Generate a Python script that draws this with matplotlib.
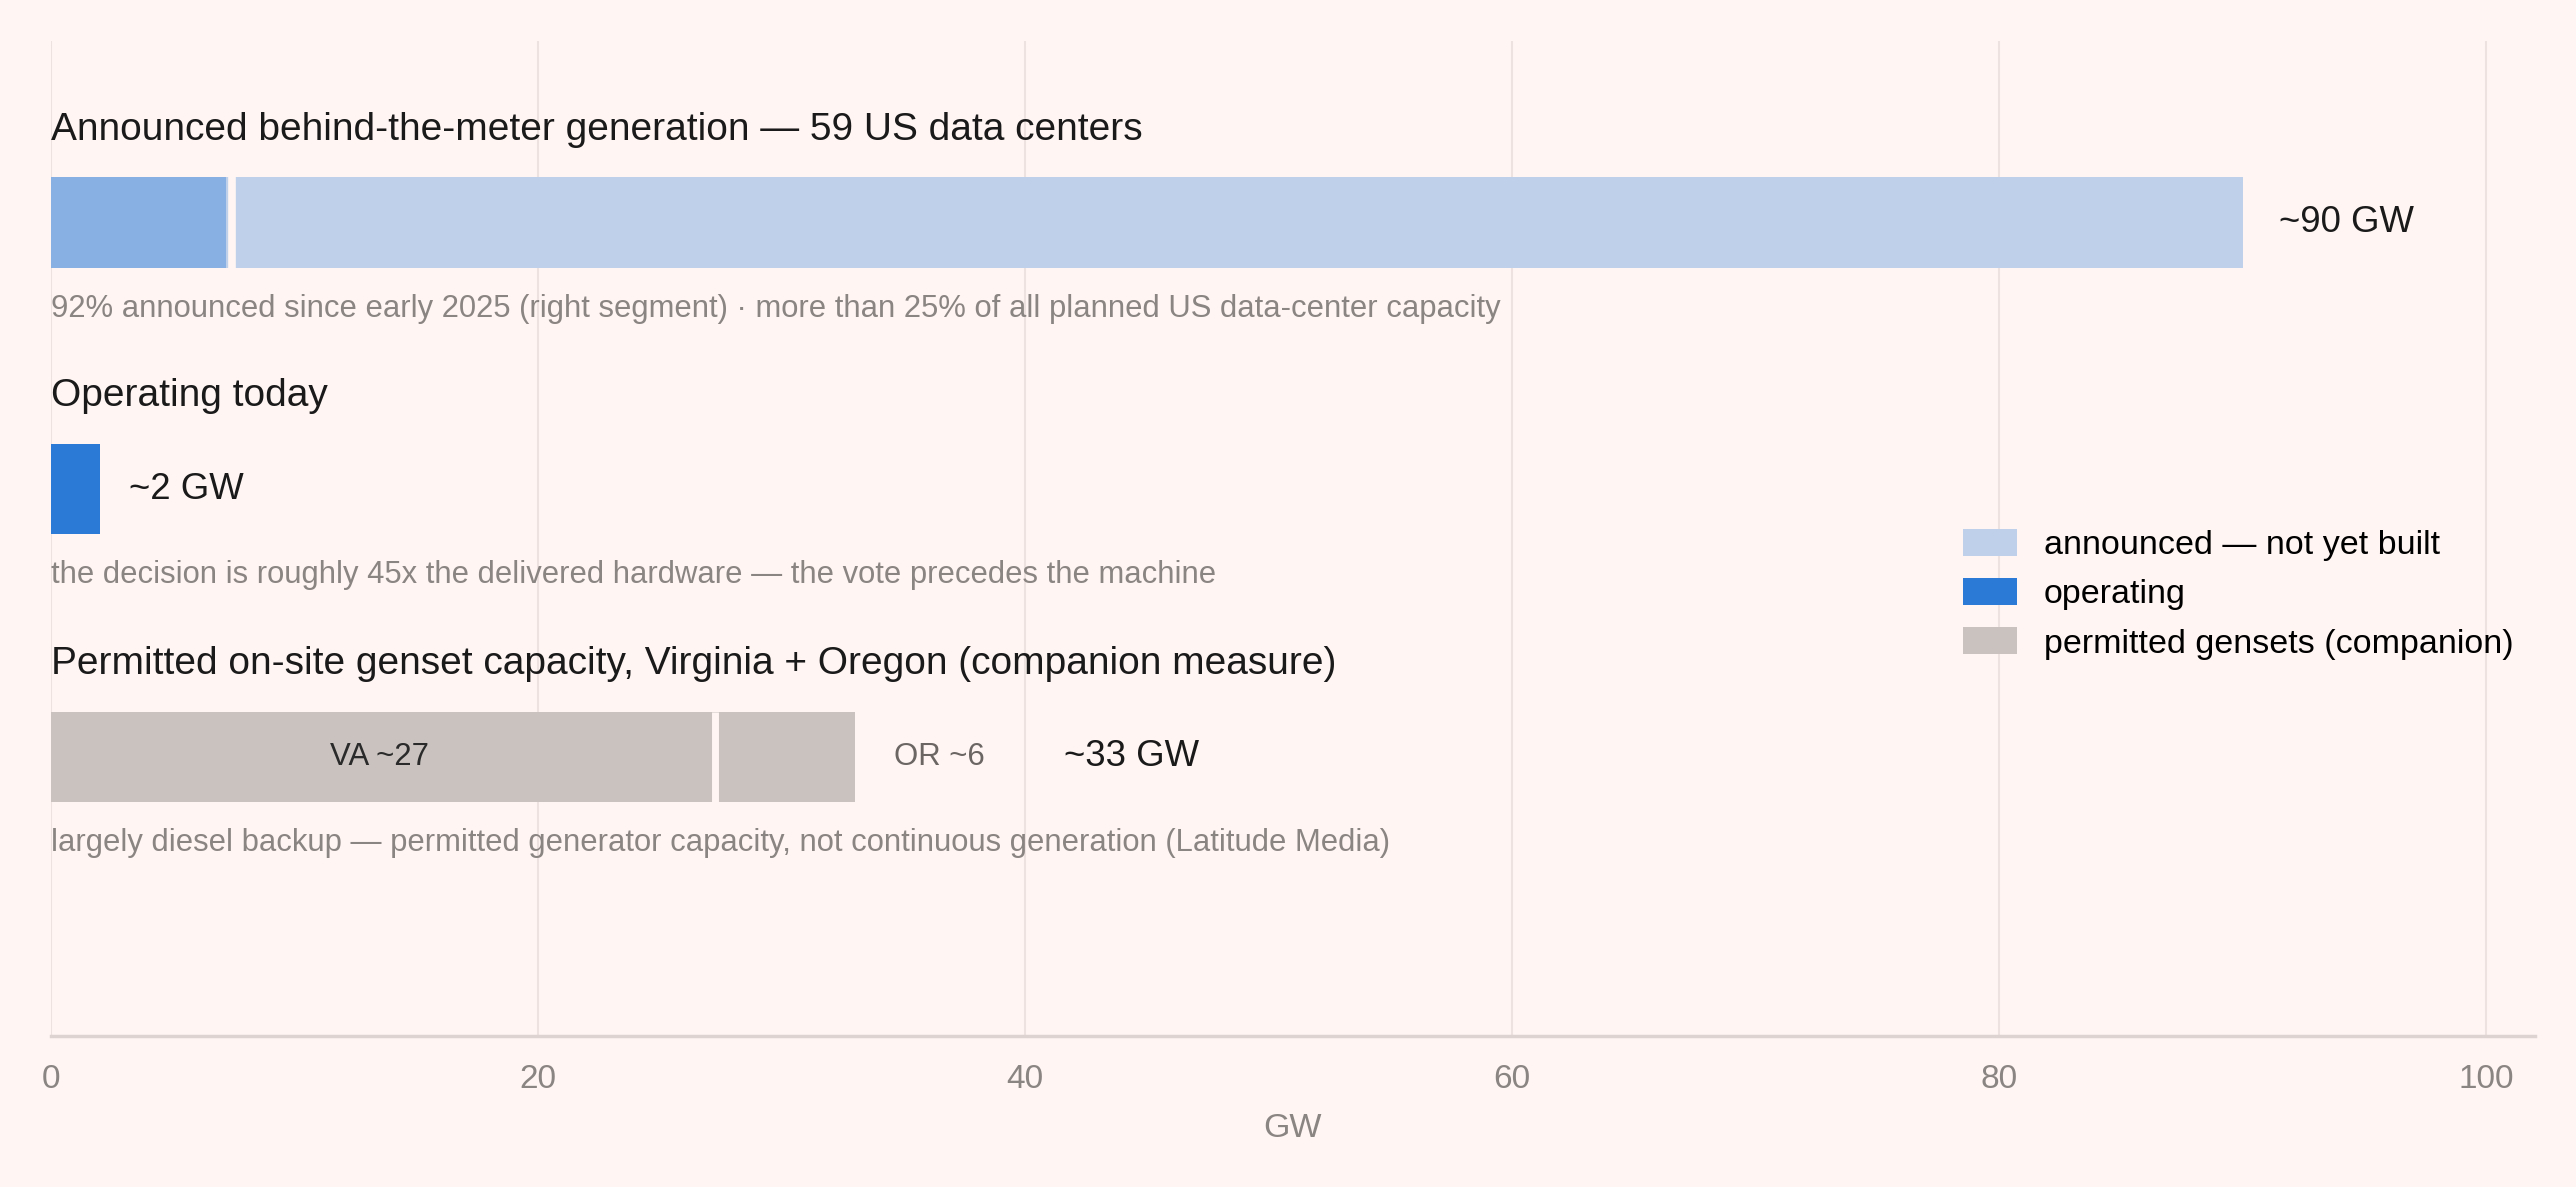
import matplotlib
matplotlib.use('Agg')
import matplotlib.pyplot as plt
from matplotlib.patches import Patch

plt.rcParams['font.family'] = ['Liberation Sans', 'DejaVu Sans']

# data (GW)
announced_total = 90
announced_pre2025 = 7.2      # ~8% announced before 2025
announced_2025 = 82.8        # 92% announced since early 2025
operating = 2
genset_states = ['VA', 'OR']
genset_gw = [27, 6]

section_titles = ['Announced behind-the-meter generation \u2014 59 US data centers',
                  'Operating today',
                  'Permitted on-site genset capacity, Virginia + Oregon (companion measure)']
section_notes = ['92% announced since early 2025 (right segment) \u00b7 more than 25% of all planned US data-center capacity',
                 'the decision is roughly 45x the delivered hardware \u2014 the vote precedes the machine',
                 'largely diesel backup \u2014 permitted generator capacity, not continuous generation (Latitude Media)']
total_labels = ['~90 GW', '~2 GW', '~33 GW']
legend_labels = ['announced \u2014 not yet built', 'operating', 'permitted gensets (companion)']

bg = '#fff6f3'
c_pre = '#89b0e3'
c_ann = '#bfd0ea'
c_op = '#2b7ad6'
c_gen = '#c9c2bf'
dark = '#1a1a1a'
gray = '#8a8482'

fig = plt.figure(figsize=(25.76, 11.87), dpi=100, facecolor=bg)
ax = fig.add_axes([31 / 1568, 1 - 631 / 723, 1512 / 1568, 606 / 723])
ax.set_facecolor(bg)

# rows laid out in display-like units, top to bottom
rows = [135.5, 298.0, 461.0]
bh = 55
sep_off = 0.25   # small gap after each segment boundary

# row 1: announced
ax.barh(rows[0], announced_pre2025, left=0, height=bh, color=c_pre, zorder=2)
ax.barh(rows[0], announced_2025, left=announced_pre2025, height=bh, color=c_ann, zorder=2)
ax.vlines(announced_pre2025 + sep_off, rows[0] - bh / 2, rows[0] + bh / 2,
          color=bg, linewidth=5.5, zorder=3)
ax.text(announced_total + 1.5, rows[0], total_labels[0], fontsize=26.3, color=dark,
        va='center', ha='left')

# row 2: operating
ax.barh(rows[1], operating, left=0, height=bh, color=c_op, zorder=2)
ax.text(operating + 1.2, rows[1], total_labels[1], fontsize=26.3, color=dark,
        va='center', ha='left')

# row 3: gensets
left = 0
for st, v in zip(genset_states, genset_gw):
    ax.barh(rows[2], v, left=left, height=bh, color=c_gen, zorder=2)
    left += v
ax.vlines(genset_gw[0] + sep_off, rows[2] - bh / 2, rows[2] + bh / 2,
          color=bg, linewidth=5, zorder=3)
ax.text(genset_gw[0] / 2, rows[2], f'{genset_states[0]} ~{genset_gw[0]}',
        fontsize=22.4, color='#2a2a2a', va='center', ha='center', zorder=6)
ax.text(sum(genset_gw) + 1.6, rows[2], f'{genset_states[1]} ~{genset_gw[1]}',
        fontsize=22.4, color='#6b6563', va='center', ha='left')
ax.text(sum(genset_gw) + 8.6, rows[2], total_labels[2], fontsize=26.3, color=dark,
        va='center', ha='left')

for y, t, n in zip(rows, section_titles, section_notes):
    ax.text(0, y - 56.5, t, fontsize=28, color=dark, va='center', ha='left')
    ax.text(0, y + 52.5, n, fontsize=22.3, color=gray, va='center', ha='left')

ax.set_xlim(0, 102)
ax.set_ylim(631, 25)
ax.set_xticks([0, 20, 40, 60, 80, 100])
ax.set_yticks([])
ax.tick_params(axis='x', length=0, labelsize=24, labelcolor=gray, pad=20)
ax.set_xlabel('GW', fontsize=24.5, color=gray, labelpad=13)
ax.grid(axis='x', color='#b9a8a4', alpha=0.25, linewidth=1.5)
for gl in ax.get_xgridlines():
    gl.set_zorder(5)
for s in ['top', 'right', 'left']:
    ax.spines[s].set_visible(False)
ax.spines['bottom'].set_color('#ddd3d0')
ax.spines['bottom'].set_linewidth(2.5)

handles = [Patch(facecolor=c_ann), Patch(facecolor=c_op), Patch(facecolor=c_gen)]
ax.legend(handles, legend_labels, loc='center left', bbox_to_anchor=(78.5, 362),
          bbox_transform=ax.transData, frameon=False, fontsize=24.5,
          handlelength=1.59, handleheight=0.85, handletextpad=0.79,
          labelspacing=0.49, borderpad=0, borderaxespad=0)

plt.savefig('out.png', dpi=100, facecolor=bg)
